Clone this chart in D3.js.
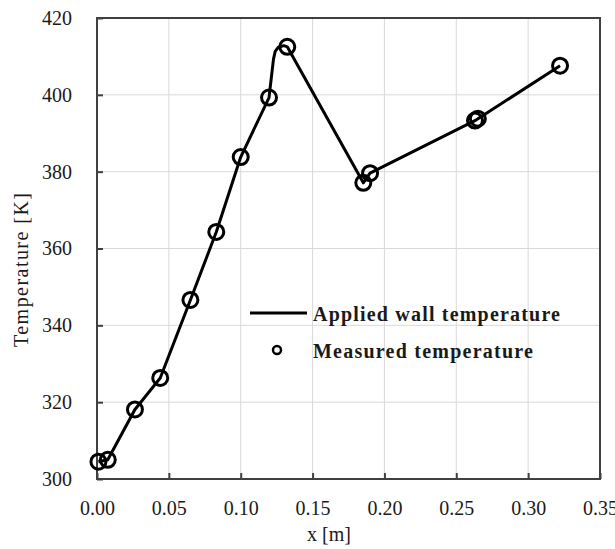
<!DOCTYPE html>
<html><head><meta charset="utf-8">
<script src="https://cdn.jsdelivr.net/npm/d3@7"></script>
<style>body{margin:0;background:#fff}svg{display:block}</style>
</head><body>
<svg id="c" width="615" height="549"></svg>
<script>
// Measured temperature (circles)
const measuredX = [0.0010, 0.0075, 0.0264, 0.0440, 0.0650, 0.0830, 0.1000, 0.1197, 0.1324, 0.1853, 0.1900, 0.2630, 0.2650, 0.3222];
const measuredT = [304.5, 305.0, 318.1, 326.3, 346.6, 364.3, 383.8, 399.3, 412.5, 377.1, 379.6, 393.3, 393.8, 407.6];
// Applied wall temperature (line)
const lineX = [0.0010, 0.0075, 0.0264, 0.0440, 0.0650, 0.0830, 0.1000, 0.1197, 0.1228, 0.1240, 0.1262, 0.1300, 0.1324, 0.1853, 0.1900, 0.2640, 0.3222];
const lineT = [304.5, 305.0, 318.1, 326.3, 346.6, 364.3, 383.8, 399.3, 409.3, 411.3, 412.4, 412.8, 412.5, 377.1, 379.6, 393.5, 407.6];
const xTicks = [0, 0.05, 0.10, 0.15, 0.20, 0.25, 0.30, 0.35];
const yTicks = [300, 320, 340, 360, 380, 400, 420];
const legendLabels = ["Applied wall temperature", "Measured temperature"];

const svg = d3.select("#c");
const L = 97, R = 600, T = 18, B = 479;
const x = d3.scaleLinear().domain([0, 0.35]).range([L, R]);
const y = d3.scaleLinear().domain([300, 420]).range([B, T]);
const font = "'Liberation Serif','Times New Roman',serif";
const txt = "#1a1a1a";

// gridlines
svg.append("g").selectAll("line.gx").data(xTicks.slice(1, -1)).join("line")
  .attr("x1", d => x(d)).attr("x2", d => x(d)).attr("y1", T).attr("y2", B)
  .attr("stroke", "#d9d9d9").attr("stroke-width", 1);
svg.append("g").selectAll("line.gy").data(yTicks.slice(1, -1)).join("line")
  .attr("x1", L).attr("x2", R).attr("y1", d => y(d)).attr("y2", d => y(d))
  .attr("stroke", "#d9d9d9").attr("stroke-width", 1);

// frame
svg.append("rect").attr("x", L).attr("y", T).attr("width", R - L).attr("height", B - T)
  .attr("fill", "none").attr("stroke", "#404040").attr("stroke-width", 2);

// axes
const xAxis = svg.append("g").attr("transform", `translate(0,${B})`)
  .call(d3.axisBottom(x).tickValues(xTicks).tickFormat(d3.format(".2f")).tickSizeInner(-6).tickSizeOuter(0).tickPadding(22));
const yAxis = svg.append("g").attr("transform", `translate(${L},0)`)
  .call(d3.axisLeft(y).tickValues(yTicks).tickSizeInner(-6).tickSizeOuter(0).tickPadding(25));
[xAxis, yAxis].forEach(g => {
  g.select(".domain").remove();
  g.selectAll(".tick line").attr("stroke", "#404040").attr("stroke-width", 2);
  g.selectAll("text").attr("font-family", font).attr("font-size", 20).attr("fill", txt);
});

// line
const line = d3.line().x((d, i) => x(lineX[i])).y(d => y(d)).curve(d3.curveLinear);
svg.append("path").datum(lineT).attr("d", line)
  .attr("fill", "none").attr("stroke", "#000").attr("stroke-width", 3).attr("stroke-linejoin", "round");

// markers
svg.append("g").selectAll("circle").data(measuredT).join("circle")
  .attr("cx", (d, i) => x(measuredX[i])).attr("cy", d => y(d)).attr("r", 7.5)
  .attr("fill", "none").attr("stroke", "#000").attr("stroke-width", 3);

// legend
svg.append("line").attr("x1", 250).attr("x2", 307).attr("y1", 313).attr("y2", 313)
  .attr("stroke", "#000").attr("stroke-width", 3);
svg.append("circle").attr("cx", 277).attr("cy", 350).attr("r", 4)
  .attr("fill", "none").attr("stroke", "#000").attr("stroke-width", 2.5);
svg.append("text").attr("x", 313).attr("y", 321).text(legendLabels[0])
  .attr("font-family", font).attr("font-size", 20).attr("font-weight", "bold").attr("fill", txt)
  .attr("textLength", 247);
svg.append("text").attr("x", 313).attr("y", 358).text(legendLabels[1])
  .attr("font-family", font).attr("font-size", 20).attr("font-weight", "bold").attr("fill", txt)
  .attr("textLength", 220);

// axis titles
svg.append("text").attr("x", 329).attr("y", 541).attr("text-anchor", "middle").text("x [m]")
  .attr("font-family", font).attr("font-size", 20).attr("fill", txt);
svg.append("text").attr("transform", "translate(28,270) rotate(-90)").attr("text-anchor", "middle")
  .text("Temperature [K]").attr("font-family", font).attr("font-size", 20).attr("fill", txt)
  .attr("textLength", 154);
</script>
</body></html>
